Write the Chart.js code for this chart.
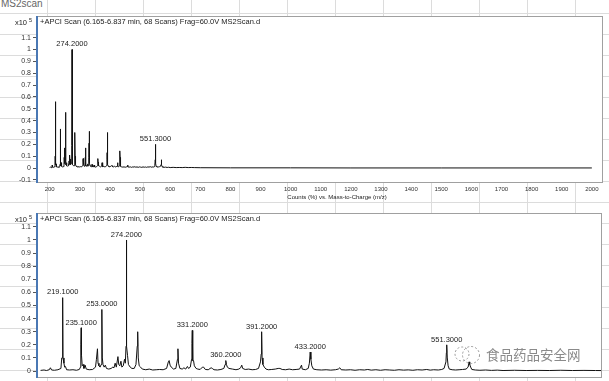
<!DOCTYPE html>
<html lang="en">
<head>
    <meta charset="UTF-8">
    <title>MS2scan</title>
    <script src="https://cdn.jsdelivr.net/npm/chart.js"></script>
    <style>
        html, body { margin: 0; padding: 0; }
        body {
            width: 609px; height: 381px; overflow: hidden; position: relative;
            background-color: #fff;
            background-image:
                repeating-linear-gradient(to right, transparent 0 47px, #dcdcdc 47px 48px),
                repeating-linear-gradient(to bottom, transparent 0 20px, #dcdcdc 20px 21px);
            background-position: 0 0, 0 -7px;
            font-family: Arial, "Liberation Sans", sans-serif;
        }
        #sheetName { position: absolute; left: 1px; top: -2px; font-size: 10px; color: #666; }
        canvas { position: absolute; left: 0; }
        #topChart { top: 0; }
        #bottomChart { top: 205px; }
        #mark { position: absolute; left: 452px; top: 342px; z-index: 2; display: flex; align-items: center; }
        #mark span { font-family: "Noto Sans CJK SC", sans-serif; font-size: 13.5px; color: #8a8a8a; margin-left: 4px; }
    </style>
</head>
<body>
    <div id="sheetName">MS2scan</div>
    <canvas id="topChart" width="609" height="205"></canvas>
    <canvas id="bottomChart" width="609" height="195"></canvas>
    <div id="mark">
        <svg width="30" height="24" viewBox="0 0 30 24">
            <circle cx="10" cy="12" r="7" fill="none" stroke="#999" stroke-dasharray="2 2"/>
            <circle cx="19" cy="13" r="8.5" fill="none" stroke="#999" stroke-dasharray="2 2"/>
        </svg>
        <span>食品药品安全网</span>
    </div>
    <script>
        // profile trace: m/z and counts (x10^5)
        const mz = [
            200, 203, 205, 207.5, 208.5, 209.5, 212, 215, 217.6, 218.3, 218.8, 219.1, 219.4, 220.2, 220.8, 221.5, 222.5,
            225, 228, 231, 233.5, 234.5, 234.8, 235.1, 235.4, 236, 236.8, 237.5, 238.5, 239.5, 242, 245,
            247.5, 248.3, 249.2, 249.7, 250.5, 251.5, 252.4, 253.0, 253.4, 254, 255, 256, 257, 259, 261,
            262.5, 263.5, 264.5, 265.5, 266.9, 267.6, 268.5, 269.5, 270.3, 271.5, 272.6, 273.3, 273.9, 274.2,
            274.5, 275.2, 276, 277.5, 279, 281, 282.5, 283.6, 284.0, 284.5, 285.3, 286.5, 288, 291, 294, 297,
            300, 303, 306, 309, 310.5, 311.2, 312, 313, 315, 317, 318.4, 318.8, 319.3, 320.5, 322.5, 324,
            325.5, 327, 328, 329.5, 330.6, 330.9, 331.2, 331.6, 332.3, 333, 334.5, 336, 338, 340, 341, 342.5,
            345, 347.5, 348.5, 350, 353, 356, 358.5, 359.6, 360.2, 360.8, 361.5, 363, 366, 369, 371.5, 373,
            374, 374.8, 377, 380, 383, 386, 388.5, 390.2, 390.8, 391.2, 391.6, 392.3, 393.5, 395, 397, 400,
            403, 405.5, 407, 409, 412, 415, 418, 421, 424, 425.7, 426.3, 429, 431.5, 432.5, 433.2, 433.8,
            434.6, 436, 439, 443, 447, 451, 455, 457.5, 458.8, 460, 464, 468, 472, 476, 480, 483, 486, 490,
            494, 498, 502, 506, 510, 514, 518, 522, 526, 530, 534, 537, 540, 544, 547, 549, 550.6, 551.0,
            551.3, 551.8, 552.5, 553.5, 556, 559, 562, 565, 568, 569.8, 570.6, 571.2, 572, 573, 576, 580,
            585, 590, 595, 600, 610, 620, 630, 640, 650, 660, 670, 680, 700, 800, 1000, 1200, 1500, 2000
        ];
        const counts = [
            0.005, 0.008, 0.004, 0.01, 0.025, 0.008, 0.006, 0.01, 0.02, 0.1, 0.1, 0.56, 0.1, 0.06, 0.03, 0.035, 0.01,
            0.008, 0.01, 0.006, 0.012, 0.03, 0.2, 0.33, 0.12, 0.04, 0.05, 0.02, 0.045, 0.015, 0.01, 0.012,
            0.03, 0.09, 0.17, 0.06, 0.04, 0.03, 0.05, 0.47, 0.1, 0.05, 0.03, 0.045, 0.02, 0.015, 0.02,
            0.03, 0.025, 0.06, 0.03, 0.11, 0.05, 0.04, 0.075, 0.03, 0.04, 0.09, 0.06, 0.19, 1.0,
            0.19, 0.12, 0.05, 0.03, 0.02, 0.02, 0.05, 0.19, 0.30, 0.1, 0.04, 0.03, 0.015, 0.01, 0.015, 0.008,
            0.01, 0.012, 0.01, 0.02, 0.07, 0.08, 0.045, 0.03, 0.015, 0.02, 0.09, 0.17, 0.06, 0.02, 0.015, 0.025,
            0.015, 0.035, 0.02, 0.03, 0.09, 0.21, 0.31, 0.08, 0.08, 0.04, 0.02, 0.015, 0.012, 0.03, 0.03, 0.012,
            0.01, 0.025, 0.02, 0.01, 0.008, 0.012, 0.02, 0.05, 0.08, 0.05, 0.03, 0.02, 0.015, 0.01, 0.015, 0.025,
            0.045, 0.02, 0.012, 0.015, 0.01, 0.012, 0.02, 0.07, 0.13, 0.30, 0.1, 0.05, 0.03, 0.015, 0.01, 0.012,
            0.015, 0.02, 0.02, 0.012, 0.01, 0.015, 0.01, 0.012, 0.015, 0.045, 0.015, 0.01, 0.02, 0.06, 0.145, 0.09,
            0.04, 0.015, 0.01, 0.008, 0.01, 0.007, 0.01, 0.015, 0.025, 0.01, 0.008, 0.01, 0.006, 0.01, 0.008, 0.012, 0.007, 0.01,
            0.006, 0.01, 0.008, 0.006, 0.01, 0.007, 0.009, 0.006, 0.01, 0.008, 0.012, 0.007, 0.01, 0.008, 0.012, 0.02, 0.07, 0.14,
            0.20, 0.1, 0.04, 0.015, 0.01, 0.008, 0.01, 0.012, 0.015, 0.03, 0.07, 0.05, 0.03, 0.012, 0.008, 0.006,
            0.008, 0.005, 0.007, 0.004, 0.006, 0.004, 0.005, 0.004, 0.006, 0.004, 0.005, 0.004, 0.003, 0.002, 0.002, 0.001, 0.001, 0.001
        ];

        const topXTicks = [200, 300, 400, 500, 600, 700, 800, 900, 1000, 1100, 1200, 1300, 1400, 1500, 1600, 1700, 1800, 1900, 2000];
        const topYTicks = [-0.1, 0, 0.1, 0.2, 0.3, 0.4, 0.5, 0.6, 0.7, 0.8, 0.9, 1, 1.1];
        const bottomYTicks = [0, 0.1, 0.2, 0.3, 0.4, 0.5, 0.6, 0.7, 0.8, 0.9, 1, 1.1];
        const topPeakLabels = [274.2, 551.3];
        const bottomPeakLabels = [219.1, 235.1, 253.0, 274.2, 331.2, 360.2, 391.2, 433.2, 551.3];

        const scanTitle = '+APCI Scan (6.165-6.837 min, 68 Scans) Frag=60.0V MS2Scan.d';
        const xAxisTitle = 'Counts (%) vs. Mass-to-Charge (m/z)';

        function decor(peaks, axisTitle) {
            return {
                id: 'decor',
                beforeDraw(chart) {
                    const a = chart.chartArea, ctx = chart.ctx;
                    ctx.save();
                    ctx.fillStyle = '#fff';
                    ctx.fillRect(a.left, a.top, a.right - a.left, a.bottom - a.top);
                    ctx.restore();
                },
                afterDraw(chart) {
                    const a = chart.chartArea, ctx = chart.ctx;
                    const xs = chart.scales.x, ys = chart.scales.y;
                    ctx.save();
                    ctx.strokeStyle = '#a0a0a0';
                    ctx.lineWidth = 1;
                    ctx.strokeRect(a.left + 0.5, a.top + 0.5, a.right - a.left - 1, a.bottom - a.top - 1);
                    ctx.strokeStyle = '#4a78b4';
                    ctx.lineWidth = 2;
                    ctx.beginPath();
                    ctx.moveTo(a.left, a.top);
                    ctx.lineTo(a.left, a.bottom);
                    ctx.stroke();

                    ctx.fillStyle = '#222';
                    ctx.font = '7.5px Arial';
                    ctx.textBaseline = 'middle';
                    ctx.textAlign = 'left';
                    ctx.fillText(scanTitle, a.left + 3, a.top + 6);

                    ctx.textAlign = 'right';
                    ctx.fillText('x10', 27, a.top + 6.5);
                    ctx.font = '5.5px Arial';
                    ctx.textAlign = 'left';
                    ctx.fillText('5', 29, a.top + 4);

                    ctx.font = '7.5px Arial';
                    ctx.textAlign = 'center';
                    ctx.textBaseline = 'bottom';
                    peaks.forEach(m => {
                        const h = counts[mz.indexOf(m)];
                        ctx.fillText(m.toFixed(4), xs.getPixelForValue(m), ys.getPixelForValue(h) - 1.5);
                    });

                    if (axisTitle) {
                        ctx.font = '6px Arial';
                        ctx.textBaseline = 'middle';
                        ctx.fillText(axisTitle, 337, a.bottom + 14);
                    }
                    ctx.restore();
                }
            };
        }

        function makePanel(id, cfg) {
            return new Chart(document.getElementById(id), {
                type: 'scatter',
                data: {
                    datasets: [{
                        data: mz.map((m, i) => ({ x: m, y: counts[i] })),
                        showLine: true,
                        borderColor: '#111',
                        borderWidth: 1,
                        pointRadius: 0,
                        tension: 0
                    }]
                },
                options: {
                    responsive: false,
                    animation: false,
                    events: [],
                    layout: { padding: { left: 0, right: cfg.padRight, top: cfg.padTop, bottom: 0 } },
                    plugins: { legend: { display: false }, tooltip: { enabled: false } },
                    scales: {
                        x: {
                            type: 'linear',
                            min: cfg.xMin, max: cfg.xMax,
                            afterBuildTicks: s => { s.ticks = cfg.xTicks.map(v => ({ value: v })); },
                            afterFit: s => { s.height = cfg.xAxisHeight; },
                            grid: { display: false, drawTicks: false },
                            border: { display: false },
                            ticks: { display: cfg.xTicks.length > 0, font: { size: 6, family: 'Arial' }, color: '#333', padding: 3, maxRotation: 0, autoSkip: false, callback: v => String(v) }
                        },
                        y: {
                            type: 'linear',
                            min: cfg.yMin, max: cfg.yMax,
                            afterBuildTicks: s => { s.ticks = cfg.yTicks.map(v => ({ value: v })); },
                            afterFit: s => { s.width = 37; },
                            grid: { drawOnChartArea: false, drawTicks: true, tickLength: 4, color: '#555' },
                            border: { display: false },
                            ticks: { font: { size: 7, family: 'Arial' }, color: '#333', padding: 2, autoSkip: false, callback: v => String(v) }
                        }
                    }
                },
                plugins: [decor(cfg.peaks, cfg.axisTitle)]
            });
        }

        makePanel('topChart', {
            xMin: 158, xMax: 2037, yMin: -0.126, yMax: 1.283,
            xTicks: topXTicks, yTicks: topYTicks,
            padTop: 16, padRight: 6, xAxisHeight: 22,
            peaks: topPeakLabels, axisTitle: xAxisTitle
        });

        makePanel('bottomChart', {
            xMin: 196.9, xMax: 685.6, yMin: -0.053, yMax: 1.206,
            xTicks: [], yTicks: bottomYTicks,
            padTop: 8, padRight: 7, xAxisHeight: 22,
            peaks: bottomPeakLabels, axisTitle: null
        });
    </script>
</body>
</html>
